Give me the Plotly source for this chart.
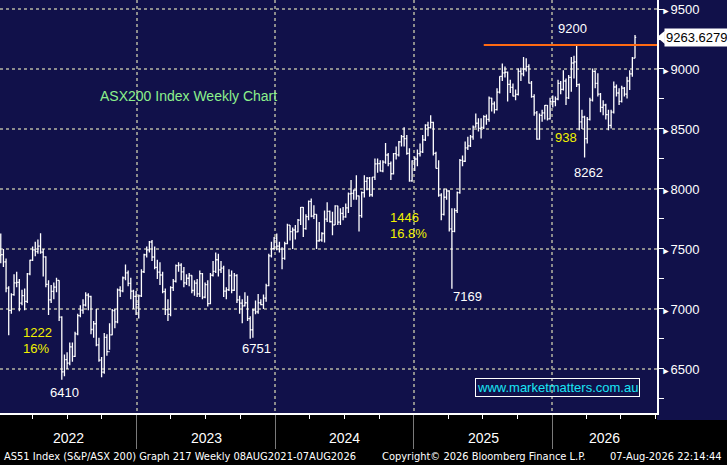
"""
plot.py
ASX200 weekly bar chart, Bloomberg style, redrawn with Plotly.
"""

import pandas as pd
import plotly.graph_objects as go

# ── Weekly bars (open, high, low, close) ───────────────────────────────────────
bars_2022 = [
    (7445, 7630, 7380, 7453), (7453, 7500, 7350, 7393), (7393, 7420, 7140, 7173), (7173, 7190, 6780, 6988),
    (6988, 7130, 6960, 7120), (7120, 7290, 7110, 7217), (7217, 7310, 7180, 7221), (7221, 7250, 6980, 7049),
    (7049, 7160, 7030, 7111), (7111, 7170, 6990, 7064), (7064, 7300, 7050, 7293), (7293, 7410, 7280, 7406),
    (7406, 7520, 7400, 7493), (7493, 7560, 7440, 7478), (7478, 7580, 7460, 7523), (7523, 7632, 7460, 7474),
    (7474, 7500, 7270, 7435), (7435, 7440, 7180, 7205), (7205, 7240, 6950, 7075), (7075, 7200, 7050, 7146),
    (7146, 7220, 7080, 7182), (7182, 7260, 7140, 7238), (7238, 7240, 6900, 6932), (6932, 6940, 6410, 6475),
    (6475, 6620, 6440, 6578), (6578, 6640, 6500, 6548), (6548, 6720, 6530, 6684), (6684, 6720, 6560, 6605),
    (6605, 6810, 6600, 6792), (6792, 6960, 6780, 6945), (6945, 7030, 6930, 6991), (6991, 7080, 6960, 7033),
    (7033, 7140, 7020, 7115), (7115, 7130, 6990, 7104), (7104, 7110, 6790, 6829), (6829, 6900, 6760, 6877),
    (6877, 7000, 6690, 6701), (6701, 6760, 6560, 6574), (6574, 6600, 6430, 6474), (6474, 6800, 6460, 6763),
    (6763, 6790, 6610, 6645), (6645, 6880, 6660, 6784), (6784, 7000, 6780, 6986), (6986, 7000, 6840, 6892),
    (6892, 7170, 6880, 7158), (7158, 7190, 7100, 7151), (7151, 7270, 7140, 7259), (7259, 7370, 7240, 7301),
    (7301, 7320, 7190, 7214), (7214, 7260, 7080, 7148), (7148, 7160, 7000, 7105), (7105, 7150, 6950, 7039),
]
bars_2023 = [
    (7039, 7120, 6920, 7109), (7109, 7330, 7100, 7310), (7310, 7460, 7300, 7452), (7452, 7520, 7430, 7493),
    (7493, 7567, 7470, 7558), (7558, 7575, 7400, 7433), (7433, 7520, 7330, 7347), (7347, 7410, 7250, 7307),
    (7307, 7390, 7200, 7283), (7283, 7310, 7130, 7144), (7144, 7170, 6950, 6995), (6995, 7080, 6900, 6955),
    (6955, 7190, 6940, 7178), (7178, 7250, 7150, 7231), (7231, 7370, 7220, 7362), (7362, 7390, 7310, 7366),
    (7366, 7380, 7240, 7309), (7309, 7350, 7180, 7217), (7217, 7290, 7200, 7256), (7256, 7300, 7190, 7279),
    (7279, 7280, 7130, 7154), (7154, 7240, 7110, 7216), (7216, 7250, 7100, 7125), (7125, 7320, 7100, 7295),
    (7295, 7300, 7080, 7098), (7098, 7220, 7090, 7203), (7203, 7240, 7020, 7045), (7045, 7300, 7040, 7281),
    (7281, 7400, 7270, 7313), (7313, 7470, 7300, 7410), (7410, 7460, 7270, 7325), (7325, 7400, 7300, 7340),
    (7340, 7360, 7100, 7148), (7148, 7180, 7080, 7160), (7160, 7330, 7150, 7279), (7279, 7320, 7130, 7156),
    (7156, 7300, 7150, 7279), (7279, 7290, 7050, 7076), (7076, 7110, 6960, 7048), (7048, 7080, 6880, 7025),
    (7025, 7140, 7020, 7052), (7052, 7110, 6900, 6920), (6920, 6940, 6751, 6827), (6827, 7000, 6760, 6990),
    (6990, 7070, 6955, 6976), (6976, 7125, 6960, 7052), (7052, 7080, 7030, 7036), (7036, 7120, 7000, 7091),
    (7091, 7210, 7060, 7195), (7195, 7460, 7190, 7442), (7442, 7560, 7430, 7503), (7503, 7600, 7490, 7590),
]
bars_2024 = [
    (7590, 7630, 7490, 7523), (7523, 7560, 7470, 7499), (7499, 7515, 7330, 7421), (7421, 7560, 7410, 7544),
    (7544, 7710, 7540, 7699), (7699, 7700, 7570, 7645), (7645, 7680, 7500, 7658), (7658, 7700, 7580, 7643),
    (7643, 7750, 7640, 7741), (7741, 7850, 7700, 7847), (7847, 7850, 7600, 7670), (7670, 7790, 7660, 7770),
    (7770, 7905, 7740, 7896), (7896, 7920, 7765, 7773), (7773, 7865, 7750, 7788), (7788, 7790, 7500, 7567),
    (7567, 7725, 7560, 7575), (7575, 7640, 7560, 7629), (7629, 7820, 7555, 7749), (7749, 7890, 7725, 7814),
    (7814, 7820, 7720, 7727), (7727, 7810, 7615, 7701), (7701, 7865, 7700, 7860), (7860, 7860, 7700, 7724),
    (7724, 7840, 7700, 7796), (7796, 7850, 7740, 7768), (7768, 7880, 7760, 7842), (7842, 7970, 7800, 7960),
    (7960, 8075, 7850, 7963), (7963, 7995, 7910, 7990), (7990, 8115, 7910, 7943), (7943, 7945, 7645, 7778),
    (7778, 7980, 7760, 7970), (7970, 8115, 7930, 8064), (8064, 8100, 7990, 8091), (8091, 8100, 7935, 7952),
    (7952, 8100, 7935, 8099), (8099, 8255, 8075, 8209), (8209, 8255, 8135, 8212), (8212, 8240, 8145, 8150),
    (8150, 8240, 8140, 8224), (8224, 8384, 8210, 8283), (8283, 8300, 8190, 8211), (8211, 8230, 8075, 8127),
    (8127, 8300, 8120, 8295), (8295, 8355, 8245, 8285), (8285, 8400, 8270, 8393), (8393, 8450, 8355, 8436),
    (8436, 8514, 8355, 8420), (8420, 8450, 8285, 8296), (8296, 8340, 8060, 8067), (8067, 8240, 8060, 8235),
]
bars_2025 = [
    (8235, 8270, 8150, 8250), (8250, 8330, 8190, 8295), (8295, 8380, 8270, 8310), (8310, 8450, 8300, 8409),
    (8409, 8540, 8400, 8532), (8532, 8560, 8440, 8511), (8511, 8615, 8505, 8555), (8555, 8560, 8280, 8296),
    (8296, 8310, 8170, 8172), (8172, 8240, 7935, 7948), (7948, 7965, 7740, 7789), (7789, 8005, 7780, 7931),
    (7931, 8000, 7910, 7983), (7983, 7990, 7645, 7667), (7667, 7840, 7169, 7646), (7646, 7840, 7640, 7820),
    (7820, 7980, 7800, 7969), (7969, 8250, 7960, 8238), (8238, 8280, 8190, 8231), (8231, 8395, 8225, 8343),
    (8343, 8435, 8325, 8360), (8360, 8450, 8350, 8435), (8435, 8530, 8410, 8515), (8515, 8630, 8510, 8548),
    (8548, 8590, 8480, 8505), (8505, 8590, 8420, 8514), (8514, 8615, 8500, 8603), (8603, 8620, 8535, 8580),
    (8580, 8770, 8560, 8757), (8757, 8760, 8645, 8710), (8710, 8730, 8630, 8662), (8662, 8840, 8655, 8807),
    (8807, 8940, 8795, 8938), (8938, 9045, 8900, 8967), (8967, 9020, 8930, 8973), (8973, 8980, 8730, 8871),
    (8871, 8910, 8800, 8846), (8846, 8880, 8770, 8774), (8774, 8830, 8740, 8788), (8788, 9005, 8780, 8980),
    (8980, 9010, 8900, 8960), (8960, 9100, 8940, 9000), (9000, 9090, 8980, 9019), (9019, 9040, 8880, 8882),
    (8882, 8900, 8760, 8770), (8770, 8790, 8610, 8635), (8635, 8650, 8410, 8416), (8416, 8630, 8410, 8614),
    (8614, 8660, 8560, 8634), (8634, 8700, 8580, 8697), (8697, 8700, 8570, 8585), (8585, 8760, 8580, 8730),
]
bars_2026 = [
    (8730, 8780, 8680, 8728), (8728, 8770, 8690, 8750), (8750, 8910, 8740, 8880), (8880, 8900, 8790, 8830),
    (8830, 8990, 8820, 8900), (8900, 8920, 8700, 8760), (8760, 8950, 8750, 8930), (8930, 9100, 8810, 9050),
    (9050, 9110, 8920, 9060), (9060, 9200, 8850, 8870), (8870, 8880, 8490, 8560), (8560, 8660, 8500, 8600),
    (8600, 8610, 8262, 8420), (8420, 8600, 8380, 8580), (8580, 8760, 8570, 8740), (8740, 9005, 8730, 8980),
    (8980, 8990, 8840, 8880), (8880, 8965, 8770, 8790), (8790, 8800, 8640, 8680), (8680, 8740, 8615, 8700),
    (8700, 8710, 8580, 8620), (8620, 8660, 8490, 8530), (8530, 8660, 8505, 8640), (8640, 8895, 8630, 8850),
    (8850, 8870, 8770, 8800), (8800, 8840, 8700, 8730), (8730, 8860, 8720, 8840), (8840, 8850, 8770, 8790),
    (8790, 8935, 8755, 8900), (8900, 8990, 8825, 8960), (8960, 9100, 8935, 9090), (9090, 9283, 9090, 9263.6279),
]
first_week = "2022-01-07"

y_ticks = [6500, 7000, 7500, 8000, 8500, 9000, 9500]
years = [2022, 2023, 2024, 2025, 2026]
resistance = 9200
resistance_from = "2025-07-04"

# ── Colours / fonts ────────────────────────────────────────────────────────────
NAVY = "#11114a"
GRID = "#8c8c8c"
YELLOW = "#f2f200"
GREEN = "#8cf08c"
CYAN = "#19e6f5"
ORANGE = "#ff6a13"
FONT = "Liberation Sans, Arial, sans-serif"
NARROW = "Liberation Sans Narrow, DejaVu Sans Condensed, Liberation Sans, sans-serif"

W, H = 727, 465
PLOT_W, PLOT_H = 657, 413
x_range = [pd.Timestamp("2022-01-05"), pd.Timestamp("2026-10-04")]
y_range = [6133, 9575]

df = pd.DataFrame(bars_2022 + bars_2023 + bars_2024 + bars_2025 + bars_2026,
                  columns=["open", "high", "low", "close"])
df["date"] = pd.date_range(first_week, periods=len(df), freq="7D")


def px(x, y):
    """pixel position inside the plot area -> paper coords"""
    return x / PLOT_W, 1 - y / PLOT_H


# ── Figure ─────────────────────────────────────────────────────────────────────
fig = go.Figure(go.Ohlc(
    x=df["date"], open=df["open"], high=df["high"], low=df["low"], close=df["close"],
    increasing=dict(line=dict(color="white", width=1.3)),
    decreasing=dict(line=dict(color="white", width=1.3)),
    tickwidth=0.45, hoverinfo="x+y",
))

# navy behind the right-hand price scale
fig.add_shape(type="rect", xref="paper", yref="paper", x0=1, x1=W / PLOT_W, y0=-7 / PLOT_H, y1=1,
              fillcolor=NAVY, line_width=0, layer="below")

# resistance line
fig.add_shape(type="line", xref="x", yref="y", x0=resistance_from, x1=x_range[1],
              y0=resistance, y1=resistance, line=dict(color=ORANGE, width=2))

# last price tag
last = df["close"].iloc[-1]
fig.add_shape(type="path", xref="paper", yref="y",
              path=f"M 1.0,{last} L 1.012,{last + 55} L 1.012,{last - 55} Z",
              fillcolor="white", line_width=0)
fig.add_annotation(xref="paper", yref="y", x=1.011, y=last, xanchor="left", yanchor="middle",
                   text=f"{last:.4f}", showarrow=False, bgcolor="white", borderpad=1,
                   font=dict(family=FONT, size=13, color="black"))

# chart notes
notes = [
    ("ASX200 Index Weekly Chart", 188, 96, GREEN, 14),
    ("1222", 37, 332, YELLOW, 13), ("16%", 36, 348, YELLOW, 13),
    ("6410", 64, 392, "white", 13), ("6751", 256, 348, "white", 13),
    ("1446", 404, 217, YELLOW, 13), ("16.8%", 408, 233, YELLOW, 13),
    ("7169", 467, 296, "white", 13), ("9200", 572, 29, "white", 13),
    ("938", 566, 137, YELLOW, 13), ("8262", 588, 172, "white", 13),
]
for text, x, y, color, size in notes:
    ax, ay = px(x, y)
    fig.add_annotation(xref="paper", yref="paper", x=ax, y=ay, text=text, showarrow=False,
                       xanchor="center", yanchor="middle",
                       font=dict(family=FONT, size=size, color=color))

ax, ay = px(557, 387)
fig.add_annotation(xref="paper", yref="paper", x=ax, y=ay, text="www.marketmatters.com.au",
                   showarrow=False, xanchor="center", yanchor="middle",
                   bordercolor="white", borderwidth=1, borderpad=1,
                   font=dict(family=FONT, size=13, color=CYAN))

# year labels centred on the visible part of each year
for yr in years:
    a = max(pd.Timestamp(f"{yr}-01-01"), x_range[0])
    b = min(pd.Timestamp(f"{yr + 1}-01-01"), x_range[1])
    fig.add_annotation(xref="x", yref="paper", x=a + (b - a) / 2, y=-25 / PLOT_H, text=str(yr),
                       showarrow=False, xanchor="center", yanchor="middle",
                       font=dict(family=FONT, size=14, color="white"))

# footer
foot_y = -43 / PLOT_H
footer = [
    ("AS51 Index (S&P/ASX 200) Graph 217 Weekly 08AUG2021-07AUG2026", 2, "left"),
    ("Copyright© 2026 Bloomberg Finance L.P.", 380, "left"),
    ("07-Aug-2026 22:14:44", 724, "right"),
]
for text, x, anchor in footer:
    fig.add_annotation(xref="paper", yref="paper", x=x / PLOT_W, y=foot_y, xanchor=anchor,
                       yanchor="middle", showarrow=False, text=text,
                       font=dict(family=NARROW, size=11, color="white"))

fig.update_xaxes(
    type="date", range=x_range, rangeslider_visible=False,
    showgrid=True, gridcolor=GRID, griddash="dot", gridwidth=2,
    tick0="2022-01-01", dtick="M12", ticks="outside", ticklen=34, tickcolor="#7a7a7a", tickwidth=1,
    showticklabels=False, showline=True, linecolor="white", linewidth=2, zeroline=False,
    minor=dict(tick0="2022-01-01", dtick="M3", ticks="outside", ticklen=4, tickcolor="white", showgrid=False),
)
fig.update_yaxes(
    side="right", range=y_range,
    tickmode="array", tickvals=y_ticks,
    ticktext=[f'<span style="font-size:9px">►</span>{v}' for v in y_ticks],
    showgrid=True, gridcolor=GRID, griddash="dot", gridwidth=2,
    ticks="outside", ticklen=0, tickfont=dict(family=FONT, size=13, color="white"),
    showline=True, linecolor="white", linewidth=2, zeroline=False,
    minor=dict(tickmode="linear", tick0=6000, dtick=250, ticks="outside", ticklen=5,
               tickcolor="white", showgrid=False),
)
fig.update_layout(
    width=W, height=H, margin=dict(l=0, r=W - PLOT_W, t=0, b=H - PLOT_H),
    paper_bgcolor="black", plot_bgcolor=NAVY, showlegend=False,
    font=dict(family=FONT, color="white"),
)

# the page body has a default 8px margin; drop it so the chart sits at 0,0
fig.write_html("out.html", config={"displayModeBar": False},
               post_script="document.body.style.margin='0';")
